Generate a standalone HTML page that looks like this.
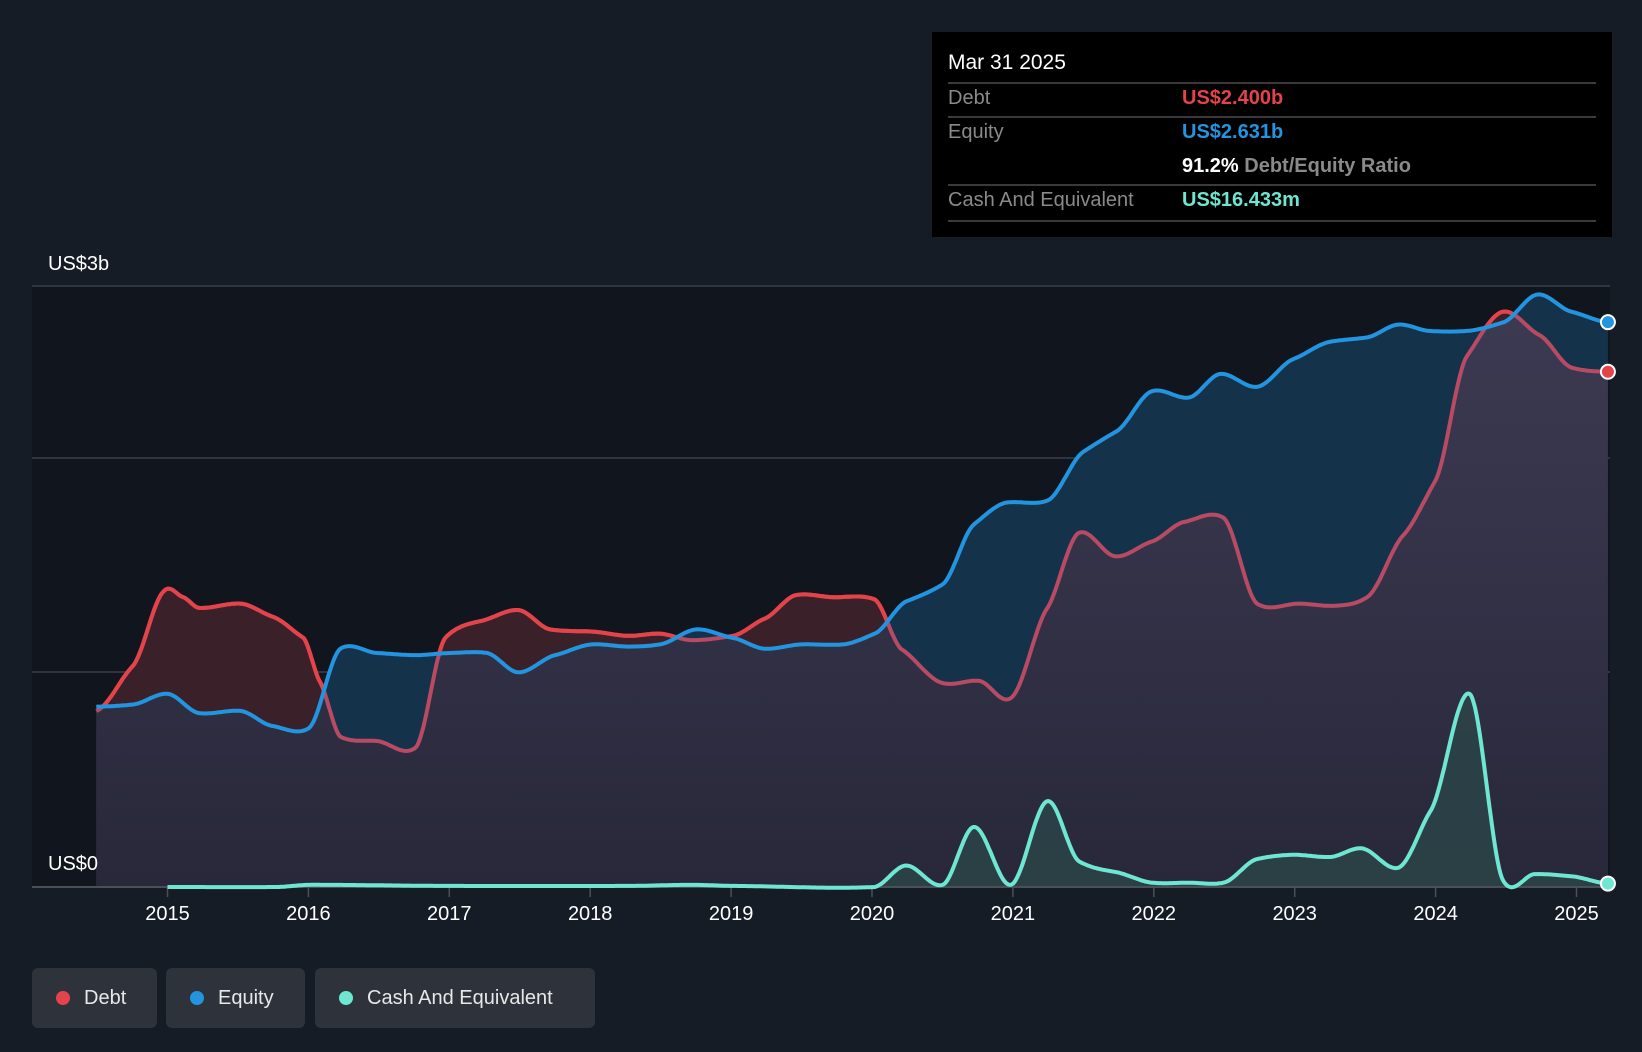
<!DOCTYPE html>
<html><head><meta charset="utf-8"><style>
body{margin:0;background:#161c25;width:1642px;height:1052px;overflow:hidden;font-family:"Liberation Sans",sans-serif;}
svg{position:absolute;left:0;top:0}
.tip{position:absolute;left:932px;top:32px;width:680px;height:205px;background:#000;}
.sep{position:absolute;left:16px;right:16px;height:2px;background:#3a3a3a}
.t{position:absolute;font-size:20px;line-height:24px}
.lbl{left:16px;color:#8a8a8a}
.val{left:250px;font-weight:bold}
.leg{position:absolute;top:968px;height:60px;background:#2d323b;border-radius:6px;color:#e8e8e8;font-size:20px;line-height:60px}
.dot{display:inline-block;width:14px;height:14px;border-radius:50%;margin:0 14px 0 24px;vertical-align:-1px}
</style></head><body>
<svg id="chart" width="1642" height="1052"></svg>
<div class="tip">
 <div class="t" style="left:16px;top:19px;color:#fff;font-size:21px">Mar 31 2025</div>
 <div class="sep" style="top:50px"></div>
 <div class="t lbl" style="top:54px">Debt</div>
 <div class="t val" style="top:54px;color:#e5434a">US$2.400b</div>
 <div class="sep" style="top:84px"></div>
 <div class="t lbl" style="top:88px">Equity</div>
 <div class="t val" style="top:88px;color:#2394df">US$2.631b</div>
 <div class="t val" style="top:122px;color:#fff">91.2% <span style="color:#8a8a8a">Debt/Equity Ratio</span></div>
 <div class="sep" style="top:152px"></div>
 <div class="t lbl" style="top:156px">Cash And Equivalent</div>
 <div class="t val" style="top:156px;color:#6ee6d2">US$16.433m</div>
 <div class="sep" style="top:188px"></div>
</div>
<div class="leg" style="left:32px;width:125px"><span class="dot" style="background:#e5434a"></span>Debt</div>
<div class="leg" style="left:166px;width:139px"><span class="dot" style="background:#2394df"></span>Equity</div>
<div class="leg" style="left:315px;width:280px"><span class="dot" style="background:#6ee6d2"></span>Cash And Equivalent</div>
<script>
const debtX=[92,127,157,175,190,230,260,290,305,325,360,397,425,460,495,525,565,600,630,660,700,730,760,795,835,860,900,935,965,1000,1030,1065,1100,1130,1168,1200,1240,1275,1305,1340,1370,1400,1435,1470,1500,1535];
const debtV=[0.82,1.03,1.38,1.35,1.30,1.32,1.26,1.16,0.96,0.70,0.68,0.65,1.16,1.24,1.29,1.20,1.19,1.17,1.18,1.15,1.17,1.25,1.36,1.35,1.34,1.11,0.95,0.96,0.88,1.30,1.65,1.54,1.61,1.70,1.72,1.32,1.32,1.31,1.35,1.64,1.89,2.47,2.68,2.57,2.42,2.40];
const eqX=[92,127,160,190,230,260,295,325,360,397,430,465,495,530,565,600,630,665,700,730,765,805,835,865,900,930,960,1000,1035,1065,1100,1135,1165,1200,1235,1270,1305,1335,1365,1400,1435,1468,1500,1535];
const eqV=[0.84,0.85,0.90,0.81,0.82,0.75,0.74,1.11,1.09,1.08,1.09,1.09,1.00,1.08,1.13,1.12,1.13,1.20,1.16,1.11,1.13,1.13,1.18,1.33,1.41,1.69,1.79,1.80,2.03,2.12,2.31,2.28,2.39,2.33,2.46,2.54,2.56,2.62,2.59,2.59,2.63,2.76,2.68,2.631];
const cashX=[160,265,295,430,600,660,700,835,865,900,930,965,1000,1030,1065,1100,1135,1168,1200,1235,1270,1300,1335,1365,1403,1435,1465,1500,1535];
const cashV=[0,0,0.01,0.005,0.005,0.01,0.005,0,0.10,0.01,0.28,0.01,0.40,0.12,0.07,0.02,0.02,0.02,0.13,0.15,0.14,0.18,0.09,0.35,0.90,0.03,0.06,0.05,0.016];
const yearTicks=[2015,2016,2017,2018,2019,2020,2021,2022,2023,2024,2025];
const toYear=a=>a.map(x=>2015+(x-160)/134.5);
const S=1.0472;
const X=y=>167.5+(y-2015)*140.9;
const Y=v=>887-v*205*S;
const svg=document.getElementById('chart');
const NS='http://www.w3.org/2000/svg';
function el(t,a,p){const e=document.createElementNS(NS,t);for(const k in a)e.setAttribute(k,a[k]);(p||svg).appendChild(e);return e;}
function interp(xs,vs){return function(t){if(t<=xs[0])return vs[0];const n=xs.length;if(t>=xs[n-1])return vs[n-1];let i=0;while(xs[i+1]<t)i++;const p0=vs[Math.max(i-1,0)],p1=vs[i],p2=vs[i+1],p3=vs[Math.min(i+2,n-1)];const u=(t-xs[i])/(xs[i+1]-xs[i]);const m1=(p2-p0)/2*0.6,m2=(p3-p1)/2*0.6;const h00=2*u*u*u-3*u*u+1,h10=u*u*u-2*u*u+u,h01=-2*u*u*u+3*u*u,h11=u*u*u-u*u;return h00*p1+h10*m1+h01*p2+h11*m2;};}
const dY=toYear(debtX),eY=toYear(eqX),cY=toYear(cashX);
const fd=interp(dY,debtV),fe=interp(eY,eqV),fc=interp(cY,cashV);
function grid(a,b){const r=[];for(let t=a;t<b;t+=0.01)r.push(t);r.push(b);return r;}
const g=grid(dY[0],dY[dY.length-1]);
const gc=grid(cY[0],cY[cY.length-1]);
const line=(ts,f)=>ts.map((t,i)=>(i?'L':'M')+X(t).toFixed(1)+','+Y(f(t)).toFixed(1)).join('');
const area=(ts,f)=>line(ts,f)+'L'+X(ts[ts.length-1])+','+Y(0)+'L'+X(ts[0])+','+Y(0)+'Z';
const defs=el('defs',{});
const lg=el('linearGradient',{id:'gg',x1:0,y1:0,x2:0,y2:1},defs);
el('stop',{offset:0,'stop-color':'#3c3a52'},lg);el('stop',{offset:1,'stop-color':'#28283a'},lg);
const cp=el('clipPath',{id:'aboveEq'},defs);
el('path',{d:line(g,fe)+'L'+X(g[g.length-1])+',200L'+X(g[0])+',200Z'},cp);
el('rect',{x:32,y:286,width:1578,height:601,fill:'#11161e'});
[286,458,672].forEach(y=>el('line',{x1:32,x2:1610,y1:y,y2:y,stroke:'#3a3f48','stroke-width':1.5}));
const p1=el('path',{d:area(g,fd),fill:'#3a2129'});
const p2=el('path',{d:area(g,fe),fill:'#15324b'});
el('path',{d:area(g,t=>Math.min(fd(t),fe(t))),fill:'url(#gg)'});
const ca=el('path',{d:area(gc,fc),fill:'#2c4448',opacity:0.85});
el('line',{x1:32,x2:1610,y1:887,y2:887,stroke:'#4a4f58','stroke-width':2});
yearTicks.forEach(y=>{el('line',{x1:X(y),x2:X(y),y1:887,y2:897,stroke:'#4a4f58','stroke-width':1.5});const t=el('text',{x:X(y),y:920,fill:'#fff','font-size':20,'text-anchor':'middle'});t.textContent=y;});
const dl=el('path',{d:line(g,fd),fill:'none',stroke:'#b84a64','stroke-width':4});
el('path',{d:line(g,fd),fill:'none',stroke:'#e5434a','stroke-width':4,'clip-path':'url(#aboveEq)'});
const el2=el('path',{d:line(g,fe),fill:'none',stroke:'#2394df','stroke-width':4});
const cl=el('path',{d:line(gc,fc),fill:'none',stroke:'#6ee6d2','stroke-width':4});
const te=g[g.length-1];
[[fe,'#2394df'],[fd,'#e5434a'],[fc,'#6ee6d2']].forEach(([f,c])=>el('circle',{cx:X(te),cy:Y(f(te)),r:7,fill:c,stroke:'#fff','stroke-width':2}));
const l3=el('text',{x:48,y:270,fill:'#fff','font-size':20});l3.textContent='US$3b';
const l0=el('text',{x:48,y:870,fill:'#fff','font-size':20});l0.textContent='US$0';
</script>
</body></html>
